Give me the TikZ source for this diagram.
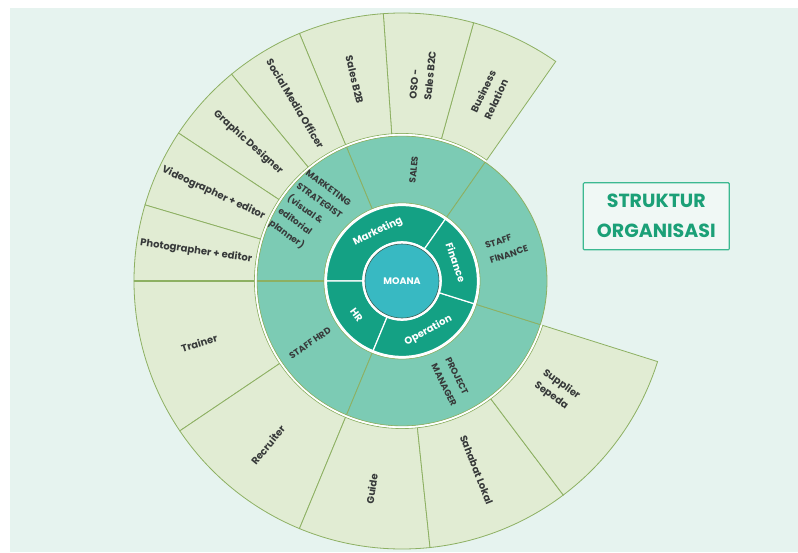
\documentclass[tikz,border=0pt]{standalone}
\usepackage{fontspec}
\setmainfont{Poppins}
\definecolor{bgmint}{RGB}{230,243,239}
\definecolor{leafgreen}{RGB}{225,236,211}
\definecolor{leafline}{RGB}{141,176,98}
\definecolor{staffteal}{RGB}{124,203,180}
\definecolor{deptgreen}{RGB}{20,161,132}
\definecolor{coreteal}{RGB}{56,185,194}
\definecolor{coreline}{RGB}{60,95,85}
\definecolor{titlegreen}{RGB}{27,160,119}
\definecolor{titleline}{RGB}{60,185,145}
\definecolor{labelgray}{RGB}{55,58,58}
\tikzset{
  outerseg/.style={fill=leafgreen,draw=leafline,line width=0.8pt},
  staffseg/.style={fill=staffteal,draw=leafline,line width=0.8pt},
  deptseg/.style={fill=deptgreen,draw=white,line width=1.2pt},
  outertext/.style={text=labelgray,font=\fontsize{10}{15}\selectfont\bfseries,align=left,inner sep=0pt},
  stafftext/.style={text=labelgray,font=\fontsize{9}{15.5}\selectfont\bfseries,align=left,inner sep=0pt},
  depttext/.style={text=white,font=\fontsize{10}{12}\selectfont\bfseries,inner sep=0pt},
}
\begin{document}
\begin{tikzpicture}[x=1pt,y=1pt]
    \useasboundingbox (-402,-271) rectangle (396,281);
    \fill[white] (-402,-271) rectangle (396,281);
    \fill[bgmint] (-392,-271) rectangle (396,273);
    % outer ring
    \draw[outerseg] (55:147.5) arc (55:74.5:147.5) -- (74.5:268) arc (74.5:55:268) -- cycle;
    \draw[outerseg] (74.5:147.5) arc (74.5:94:147.5) -- (94:268) arc (94:74.5:268) -- cycle;
    \draw[outerseg] (94:147.5) arc (94:112.5:147.5) -- (112.5:268) arc (112.5:94:268) -- cycle;
    \draw[outerseg] (112.5:147.5) arc (112.5:129.5:147.5) -- (129.5:268) arc (129.5:112.5:268) -- cycle;
    \draw[outerseg] (129.5:147.5) arc (129.5:146.5:147.5) -- (146.5:268) arc (146.5:129.5:268) -- cycle;
    \draw[outerseg] (146.5:147.5) arc (146.5:163.5:147.5) -- (163.5:268) arc (163.5:146.5:268) -- cycle;
    \draw[outerseg] (163.5:147.5) arc (163.5:180:147.5) -- (180:268) arc (180:163.5:268) -- cycle;
    \draw[outerseg] (180:147.5) arc (180:214:147.5) -- (214:268) arc (214:180:268) -- cycle;
    \draw[outerseg] (214:147.5) arc (214:247.5:147.5) -- (247.5:268) arc (247.5:214:268) -- cycle;
    \draw[outerseg] (247.5:147.5) arc (247.5:276:147.5) -- (276:268) arc (276:247.5:268) -- cycle;
    \draw[outerseg] (276:147.5) arc (276:307:147.5) -- (307:268) arc (307:276:268) -- cycle;
    \draw[outerseg] (307:147.5) arc (307:342.5:147.5) -- (342.5:268) arc (342.5:307:268) -- cycle;
    \draw[leafline,line width=1.4pt] (180:147.5) -- (180:268);
    % staff ring
    \draw[staffseg] (55:78) arc (55:112.5:78) -- (112.5:145) arc (112.5:55:145) -- cycle;
    \draw[staffseg] (112.5:78) arc (112.5:180:78) -- (180:145) arc (180:112.5:145) -- cycle;
    \draw[staffseg] (180:78) arc (180:247.5:78) -- (247.5:145) arc (247.5:180:145) -- cycle;
    \draw[staffseg] (247.5:78) arc (247.5:342.5:78) -- (342.5:145) arc (342.5:247.5:145) -- cycle;
    \draw[staffseg] (342.5:78) arc (342.5:415:78) -- (415:145) arc (415:342.5:145) -- cycle;
    \draw[leafline,line width=1.4pt] (180:78) -- (180:145);
    \draw[white,line width=1.6pt] (55:146.25) arc (55:342.5:146.25);
    \fill[white] (0,0) circle (77.6);
    % department ring
    \draw[deptseg] (55:39) arc (55:180:39) -- (180:75.5) arc (180:55:75.5) -- cycle;
    \draw[deptseg] (180:39) arc (180:247.5:39) -- (247.5:75.5) arc (247.5:180:75.5) -- cycle;
    \draw[deptseg] (247.5:39) arc (247.5:342.5:39) -- (342.5:75.5) arc (342.5:247.5:75.5) -- cycle;
    \draw[deptseg] (342.5:39) arc (342.5:415:39) -- (415:75.5) arc (415:342.5:75.5) -- cycle;
    \fill[white] (0,0) circle (39.8);
    \draw[fill=coreteal,draw=coreline,line width=0.6pt] (0,0) circle (37);
    \node[text=white,font=\fontsize{9.5}{12}\selectfont\bfseries] (moana) at (0,0) {MOANA};
    % department labels
    \node[depttext,rotate=26] (marketing) at (116:55) {Marketing};
    \node[depttext,rotate=-71] (finance) at (19:57) {Finance};
    \node[depttext,rotate=-53] (hr) at (217:57) {HR};
    \node[depttext,rotate=28] (operation) at (298:56) {Operation};
    % staff labels
    \node[stafftext,rotate=84] (sales) at (84:112) {SALES};
    \node[stafftext,rotate=-36] (mktstrat) at (144:114) {MARKETING\\STRATEGIST\\(visual \&\\editorial\\planner)};
    \node[stafftext,rotate=18] (stafffin) at (18:110) {STAFF\\FINANCE};
    \node[stafftext,rotate=34] (staffhrd) at (214:111) {STAFF HRD};
    \node[stafftext,rotate=-64] (pm) at (296:112) {PROJECT\\MANAGER};
    % outer labels
    \node[outertext,rotate=64.75] (busrel) at (64.75:206) {Business\\Relation};
    \node[outertext,rotate=84.25] (oso) at (84.25:207) {OSO -\\Sales B2C};
    \node[outertext,rotate=-76.75] (salesbtb) at (103.25:207) {Sales B2B};
    \node[outertext,rotate=-59] (socmed) at (121:207) {Social Media Officer};
    \node[outertext,rotate=-42] (graphic) at (138:207) {Graphic Designer};
    \node[outertext,rotate=-25] (video) at (155:208) {Videographer + editor};
    \node[outertext,rotate=-8.25] (photo) at (171.75:208) {Photographer + editor};
    \node[outertext,rotate=17] (trainer) at (197:212) {Trainer};
    \node[outertext,rotate=50.75] (recruiter) at (230.75:212) {Recruiter};
    \node[outertext,rotate=81.75] (guide) at (261.75:210) {Guide};
    \node[outertext,rotate=-68.5] (sahabat) at (291.5:203) {Sahabat Lokal};
    \node[outertext,rotate=-35.25] (supplier) at (324.75:190) {Supplier\\Sepeda};
    % title
    \node[draw=titleline,line width=1.2pt,fill=bgmint!60!white,rounded corners=1pt,minimum width=146,minimum height=67,text=titlegreen,font=\fontsize{19}{30}\selectfont\bfseries,align=center] (title) at (254.3,64.7) {STRUKTUR\\ORGANISASI};
\end{tikzpicture}
\end{document}
